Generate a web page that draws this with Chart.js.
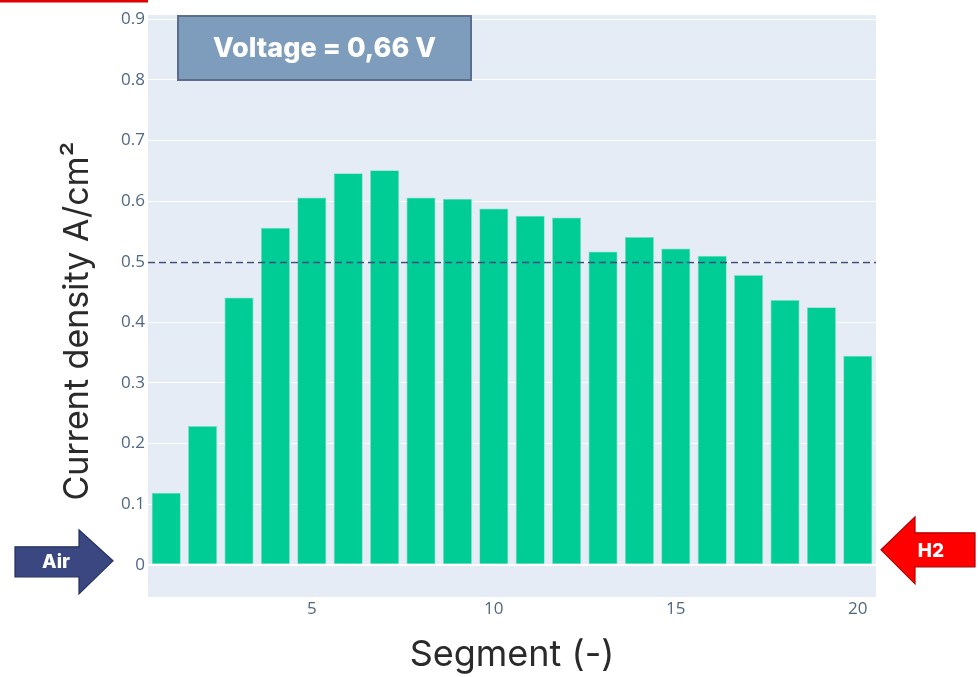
<!DOCTYPE html>
<html>
<head>
<meta charset="utf-8">
<script src="https://cdn.jsdelivr.net/npm/chart.js@4.4.1/dist/chart.umd.min.js"></script>
<style>
  html, body { margin: 0; padding: 0; background: #ffffff; }
  #wrap { width: 978px; height: 677px; position: relative; }
</style>
</head>
<body>
<div id="wrap"><canvas id="chart" width="978" height="677"></canvas></div>
<script>
// Segment numbers along the cell and measured current density per segment (A/cm²)
const segments = [1, 2, 3, 4, 5, 6, 7, 8, 9, 10, 11, 12, 13, 14, 15, 16, 17, 18, 19, 20];
const currentDensity = [0.119, 0.229, 0.441, 0.556, 0.606, 0.646, 0.651, 0.606, 0.604, 0.588,
                        0.576, 0.573, 0.517, 0.541, 0.522, 0.510, 0.478, 0.437, 0.425, 0.345];
const meanDensity = 0.5;
const xTicks = [5, 10, 15, 20];
const yTicks = [0, 0.1, 0.2, 0.3, 0.4, 0.5, 0.6, 0.7, 0.8, 0.9];
const voltageLabel = 'Voltage = 0,66 V';
const inletLabel = 'Air';
const outletLabel = 'H2';
const yTitle = 'Current density A/cm²';
const xTitle = 'Segment (-)';

const TITLE_FONT = "Inter, 'Open Sans', sans-serif";
const TICK_FONT = "'Open Sans', 'Noto Sans', sans-serif";

// Background, y title, mean line, voltage box, flow arrows and header stripe
const decorations = {
  id: 'decorations',
  beforeDraw(chart) {
    const { ctx, chartArea: a } = chart;
    ctx.save();
    ctx.fillStyle = '#e5ecf6';
    ctx.fillRect(a.left, a.top, a.right - a.left, a.bottom - a.top);
    ctx.restore();
  },
  afterDraw(chart) {
    const { ctx, chartArea: a } = chart;
    ctx.save();
    ctx.translate(78, (a.top + chart.height) / 2 - 25);
    ctx.rotate(-Math.PI / 2);
    ctx.fillStyle = '#2a2a2a';
    ctx.font = "34px " + TITLE_FONT;
    ctx.textAlign = 'center';
    ctx.textBaseline = 'middle';
    ctx.fillText(yTitle, 0, 0);
    ctx.restore();
  },
  afterDatasetsDraw(chart) {
    const { ctx, chartArea: a, scales } = chart;
    const y = scales.y;
    ctx.save();
    // mean line
    const ym = Math.round(y.getPixelForValue(meanDensity)) + 0.5;
    ctx.strokeStyle = '#3d4a7a';
    ctx.lineWidth = 1.3;
    ctx.setLineDash([7, 4]);
    ctx.beginPath();
    ctx.moveTo(a.left, ym);
    ctx.lineTo(a.right, ym);
    ctx.stroke();
    ctx.setLineDash([]);

    // voltage box
    const bx = a.left + 30, by = a.top + 1, bw = 293, bh = 64;
    ctx.fillStyle = '#7e9cbb';
    ctx.fillRect(bx, by, bw, bh);
    ctx.strokeStyle = '#5b6f8c';
    ctx.lineWidth = 2;
    ctx.strokeRect(bx, by, bw, bh);
    ctx.fillStyle = '#ffffff';
    ctx.font = "800 27px " + TITLE_FONT;
    ctx.textAlign = 'center';
    ctx.textBaseline = 'middle';
    ctx.fillText(voltageLabel, bx + bw / 2, by + bh / 2 + 1);

    // inlet arrow (left)
    const y0 = y.getPixelForValue(0);
    ctx.fillStyle = '#3a4780';
    ctx.strokeStyle = '#252f5c';
    ctx.lineWidth = 1.2;
    ctx.beginPath();
    ctx.moveTo(15, y0 - 18);
    ctx.lineTo(79, y0 - 18);
    ctx.lineTo(79, y0 - 35);
    ctx.lineTo(113, y0 - 4);
    ctx.lineTo(79, y0 + 29);
    ctx.lineTo(79, y0 + 12);
    ctx.lineTo(15, y0 + 12);
    ctx.closePath();
    ctx.fill();
    ctx.stroke();
    ctx.fillStyle = '#ffffff';
    ctx.font = "800 19px " + TITLE_FONT;
    ctx.fillText(inletLabel, 56, y0 - 3);

    // outlet arrow (right)
    ctx.fillStyle = '#ff0000';
    ctx.strokeStyle = '#b00000';
    ctx.beginPath();
    ctx.moveTo(975, y0 - 32);
    ctx.lineTo(915, y0 - 32);
    ctx.lineTo(915, y0 - 48);
    ctx.lineTo(881, y0 - 15);
    ctx.lineTo(915, y0 + 19);
    ctx.lineTo(915, y0 + 2);
    ctx.lineTo(975, y0 + 2);
    ctx.closePath();
    ctx.fill();
    ctx.stroke();
    ctx.fillStyle = '#ffffff';
    ctx.fillText(outletLabel, 931, y0 - 14);

    // header stripe
    ctx.fillStyle = '#e00000';
    ctx.fillRect(0, 0, a.left, 2.5);
    ctx.restore();
  }
};

new Chart(document.getElementById('chart'), {
  type: 'bar',
  data: {
    datasets: [{
      data: segments.map((s, i) => ({ x: s, y: currentDensity[i] })),
      backgroundColor: '#00cc96',
      borderColor: '#7fe0c4',
      borderWidth: 0.8,
      barPercentage: 1,
      categoryPercentage: 0.8
    }]
  },
  options: {
    responsive: false,
    animation: false,
    devicePixelRatio: 1,
    layout: { padding: { left: 0, right: 102, top: 15, bottom: 0 } },
    plugins: { legend: { display: false }, tooltip: { enabled: false } },
    scales: {
      x: {
        type: 'linear',
        offset: false,
        min: 0.5,
        max: 20.5,
        afterFit(s) { s.height = 80; },
        afterBuildTicks(s) { s.ticks = xTicks.map(v => ({ value: v })); },
        grid: { display: false, drawTicks: false },
        border: { display: false },
        ticks: {
          color: '#506784',
          font: { family: TICK_FONT, size: 17 },
          padding: 2,
          callback: v => String(v)
        },
        title: {
          display: true,
          text: xTitle,
          color: '#2a2a2a',
          font: { family: TITLE_FONT, size: 36 },
          padding: { top: 0, bottom: 0 }
        }
      },
      y: {
        min: -0.053,
        max: 0.907,
        afterFit(s) { s.width = 148; },
        afterBuildTicks(s) { s.ticks = yTicks.map(v => ({ value: v })); },
        grid: {
          drawTicks: false,
          color: '#ffffff',
          lineWidth: ctx => (ctx.tick && ctx.tick.value === 0 ? 2 : 1)
        },
        border: { display: false },
        ticks: {
          color: '#506784',
          font: { family: TICK_FONT, size: 17 },
          padding: 3,
          callback: v => (v === 0 ? '0' : v.toFixed(1))
        },
        title: { display: false }
      }
    }
  },
  plugins: [decorations]
});
</script>
</body>
</html>
